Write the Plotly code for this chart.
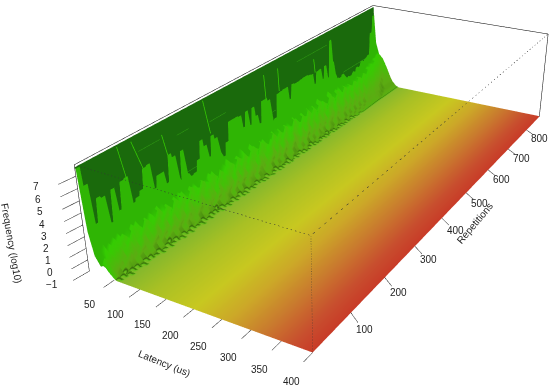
import numpy as np
import plotly.graph_objects as go

# values
rep_labels = [100, 200, 300, 400, 500, 600, 700, 800]
lat_labels = [50, 100, 150, 200, 250, 300, 350, 400]
freq_labels = [-1, 0, 1, 2, 3, 4, 5, 6, 7]

latency = [0, 1, 1.5, 8, 16, 26, 31, 36, 40, 44, 48, 52, 56, 60, 64, 68, 80, 120, 160, 200, 240, 280, 320, 360, 400]

# height where the steep dark front gives way to the bright spikes, every 10 repetitions
front = [7.6, 6.0, 2.5, 4.5, 4.3, 1.8, 4.5, 2.4, 4.7, 4.8, 2.3, 2.6, 3.0, 4.7, 4.8, 2.4, 3.4, 3.4, 2.2, 4.6,
         4.2, 1.6, 4.3, 1.9, 1.5, 1.6, 2.6, 4.2, 3.5, 2.2, 4.05, 3.6, 1.8, 1.4, 2.6, 4.4, 4.4, 4.4, 4.3, 3.0,
         4.4, 2.8, 4.4, 3.4, 2.4, 4.5, 4.5, 4.2, 1.8, 2.0, 4.3, 4.35, 4.4, 4.4, 3.0, 4.4, 4.3, 4.3, 4.35, 4.4,
         4.4, 4.3, 4.2, 3.0, 4.2, 4.25, 3.0, 4.3, 2.8, 6.7, 4.2, 2.6, 2.1, 2.0, 2.2, 1.3, 1.4, 1.2, 1.4, 1.5,
         2.0, 1.7, 2.4, 1.8, 2.4, 2.6, 5.0, 6.8]

# height of the low ragged part, every 5 repetitions
grass = [-0.2, 0.3, 0.1, 0.6, 0.2, 0.8, 0.3, 0.9, 0.4, 1.0, 0.5, 0.9, 0.2, 1.1, 0.6, 1.2,
         0.4, 1.0, 0.3, 1.3, 0.7, 1.0, 0.4, 1.2, 0.5, 1.4, 0.8, 1.1, 0.3, 1.2, 0.6, 1.0,
         0.2, 1.3, 0.7, 1.1, 0.5, 1.4, 0.6, 1.0, 0.3, 1.2, 0.8, 1.3, 0.4, 1.1, 0.6, 1.5,
         0.9, 1.2, 0.4, 1.0, 0.7, 1.3, 0.5, 1.1, 0.2, 1.4, 0.8, 1.0, 0.5, 1.2, 0.7, 1.5,
         0.6, 1.1, 0.3, 1.3, 0.9, 1.2, 0.5, 1.6, 0.7, 1.0, 0.4, 1.3, 0.8, 1.4, 0.6, 1.1,
         0.4, 1.5, 0.9, 1.2, 0.6, 1.0, 0.3, 1.3, 0.7, 1.6, 1.0, 1.2, 0.5, 1.4, 0.8, 1.1,
         0.6, 1.5, 0.9, 1.3, 0.4, 1.2, 0.7, 1.6, 1.1, 1.3, 0.6, 1.0, 0.5, 1.4, 0.9, 1.2,
         0.7, 1.7, 1.0, 1.3, 0.5, 1.5, 0.8, 1.2, 0.6, 1.4, 1.1, 1.6, 0.7, 1.3, 0.9, 1.1,
         0.5, 1.5, 1.0, 1.7, 0.8, 1.2, 0.6, 1.4, 1.1, 1.5, 0.7, 1.3, 0.9, 1.6, 1.2, 1.4,
         0.8, 1.5, 1.1, 1.3, 0.9, 1.7, 1.2, 1.4, 1.0, 1.6, 1.3, 1.5, 1.1, 1.8, 1.4, 1.6,
         1.3, 1.9, 1.6, 2.0, 1.7, 2.2, 1.9, 2.4, 2.2, 2.5, 2.3, 2.6, 2.4, 2.5, 2.2, 2.0]

# faint level lines on the dark front: first repetition, last repetition, height
wall_rep_from = [125, 215, 220, 570, 745, 300, 450]
wall_rep_to = [175, 245, 270, 680, 860, 345, 495]
wall_height = [6.3, 5.85, 2.1, 6.4, 2.4, 5.4, 2.8]

# thin bright streaks running down the front
streak_rep_top = [82, 112, 180, 285, 460, 505, 630]
streak_rep_end = [95, 132, 190, 300, 465, 508, 635]
streak_z_top = [7.6, 7.4, 6.6, 7.6, 6.9, 6.8, 5.7]
streak_z_end = [4.6, 4.7, 4.6, 4.3, 4.3, 4.5, 4.2]

x_range = [-60, 560]
y_range = [-400, 1020]
z_range = [-1.5, 8.4]
lat_min, lat_max = 0, 400
rep_min, rep_max = 0, 875
z_min, z_max = -1, 7.9
W, H = 555, 391

# camera fitted to the box corners; the lens is narrower than plotly's,
# so the scene is drawn larger than the window and the window shows a part of it
zoom = 1.9599
left = 337.06 - zoom * W / 2
top = 171.71 - zoom * H / 2

# rows come in close pairs so that the spikes keep steep sides
rows = np.arange(len(grass))
reps = 10 * (rows // 2) + 8 * (rows % 2)
g = np.array(grass)
h = np.maximum(np.repeat(front, 2), g)
lat = np.array(latency)

Z = np.full((len(reps), len(lat)), float(z_min))
C = np.tile(0.2 + 0.8 * lat / lat_max, (len(reps), 1))
Z[:, 0] = 7.7
Z[:, 1] = h
Z[:, 2] = h
Z[:, 3] = g + 0.35 * (h - g)
Z[:, 4] = g + 0.1 * (h - g)
C[:, [0, 1]] = 0
C[:, [2, 3, 4]] = 0.05

# ragged part: the heights drift a few repetitions per latency step
rag_shift = [0, 2, 4, 4, 6, 8, 8, 10, 12, 14]
rag_floor = [-1, -1, -1, -0.8, -0.5, -0.2, 0.2, 0.5, 0.9, 1.2]
rag_scale = [1, 0.85, 0.7, 0.6, 0.5, 0.4, 0.3, 0.25, 0.15, 0.1]
rag_dark = [0.1, 0.15, 0.25, 0.35, 0.45, 0.5, 0.55, 0.55, 0.5, 0.45]
for j, (s, t, f, d) in enumerate(zip(rag_shift, rag_floor, rag_scale, rag_dark)):
    col = 5 + j
    part = g[np.clip(rows + s, 0, len(g) - 1)]
    Z[:, col] = np.maximum(z_min, z_min + (part - t) * f)
    slope = np.gradient(Z[:, col])
    shade = 0.05 + 0.09 * np.clip(d - slope / (1.6 * f), 0, 1)
    C[:, col] = np.where(Z[:, col] > z_min, shade, C[:, col])

colorscale = [
    [0, "#1a6a0c"], [0.04, "#1a6a0c"], [0.05, "#35cc02"], [0.095, "#5cac12"], [0.14, "#33660a"],
    [0.2, "#60c018"], [0.32, "#84b82c"], [0.44, "#a8c024"], [0.6, "#c8c820"], [0.72, "#cca828"],
    [0.84, "#c97a2e"], [0.94, "#c84e2e"], [1, "#c83c28"],
]

fig = go.Figure()
fig.add_trace(go.Surface(
    x=lat, y=reps, z=Z, surfacecolor=C, cmin=0, cmax=1, colorscale=colorscale, showscale=False,
    hoverinfo="skip", lighting=dict(ambient=1, diffuse=0, specular=0, roughness=1, fresnel=0),
))


def segments(pairs):
    xs, ys, zs = [], [], []
    for a, b in pairs:
        xs += [a[0], b[0], None]
        ys += [a[1], b[1], None]
        zs += [a[2], b[2], None]
    return xs, ys, zs


A, B, C_, D = [(lat_min, rep_min, z_min), (lat_max, rep_min, z_min), (lat_max, rep_max, z_min), (lat_min, rep_max, z_min)]
E, F, G, T = [(lat_min, rep_min, z_max), (lat_max, rep_min, z_max), (lat_max, rep_max, z_max), (lat_min, rep_max, z_max)]
xs, ys, zs = segments([(E, T), (T, G), (G, C_), (A, E)])
fig.add_trace(go.Scatter3d(x=xs, y=ys, z=zs, mode="lines", line=dict(color="black", width=1), hoverinfo="skip"))
xs, ys, zs = segments([(E, F), (F, G), (F, B)])
fig.add_trace(go.Scatter3d(x=xs, y=ys, z=zs, mode="lines", line=dict(color="#333333", width=1, dash="dot"), hoverinfo="skip"))

xs, ys, zs = segments([((2, a, z), (2, b, z)) for a, b, z in zip(wall_rep_from, wall_rep_to, wall_height)])
fig.add_trace(go.Scatter3d(x=xs, y=ys, z=zs, mode="lines", line=dict(color="#2f9a12", width=1), hoverinfo="skip"))
xs, ys, zs = segments([((2, a, za), (2, b, zb)) for a, b, za, zb in zip(streak_rep_top, streak_rep_end, streak_z_top, streak_z_end)])
fig.add_trace(go.Scatter3d(x=xs, y=ys, z=zs, mode="lines", line=dict(color="#35cc02", width=1.5), hoverinfo="skip"))

ticks = [((v, rep_min, z_min), (v, rep_min - 22, z_min)) for v in lat_labels]
ticks += [((lat_max, v, z_min), (lat_max + 20, v - 15, z_min)) for v in rep_labels]
ticks += [((lat_min, rep_min, v), (lat_min - 3, rep_min - 30, v)) for v in freq_labels]
xs, ys, zs = segments(ticks)
fig.add_trace(go.Scatter3d(x=xs, y=ys, z=zs, mode="lines", line=dict(color="#222222", width=1), hoverinfo="skip"))

font = dict(size=10, family="Liberation Sans", color="#222222")
notes = []
for v in lat_labels:
    notes.append(dict(x=v, y=rep_min - 50, z=z_min, text=str(v), yshift=-7))
for v in rep_labels:
    notes.append(dict(x=lat_max + 35, y=v - 25, z=z_min, text=str(v), xshift=1))
for v in freq_labels:
    notes.append(dict(x=lat_min - 8, y=rep_min - 70, z=v, text=str(v).replace("-", "\u2212"), xshift=2, yshift=9))
notes.append(dict(x=lat_min - 13, y=rep_min - 125, z=4.6, text="Frequency (log10)", textangle=80, xshift=7))
notes.append(dict(x=225, y=rep_min - 100, z=z_min, text="Latency (us)", textangle=22, xshift=5, yshift=-9))
notes.append(dict(x=lat_max + 55, y=410, z=z_min, text="Repetitions", textangle=-50))
for n in notes:
    n.update(showarrow=False, font=font)

fig.update_layout(
    width=round(zoom * W), height=round(zoom * H), margin=dict(l=0, r=0, t=0, b=0), paper_bgcolor="white",
    showlegend=False,
    scene=dict(
        xaxis=dict(visible=False, range=x_range), yaxis=dict(visible=False, range=y_range),
        zaxis=dict(visible=False, range=z_range),
        aspectmode="manual", aspectratio=dict(x=1.2275, y=2.9521, z=0.3998),
        camera=dict(eye=dict(x=1.3380, y=-2.3217, z=1.3488), center=dict(x=0, y=0, z=0),
                    up=dict(x=-0.0026, y=-0.0015, z=1), projection=dict(type="perspective")),
        annotations=notes,
    ),
)
post = ("var d=document.getElementById('{plot_id}');d.style.position='fixed';"
        "d.style.left='%dpx';d.style.top='%dpx';document.body.style.overflow='hidden';" % (round(left), round(top)))
fig.write_html("out.html", post_script=post, config=dict(displayModeBar=False))
